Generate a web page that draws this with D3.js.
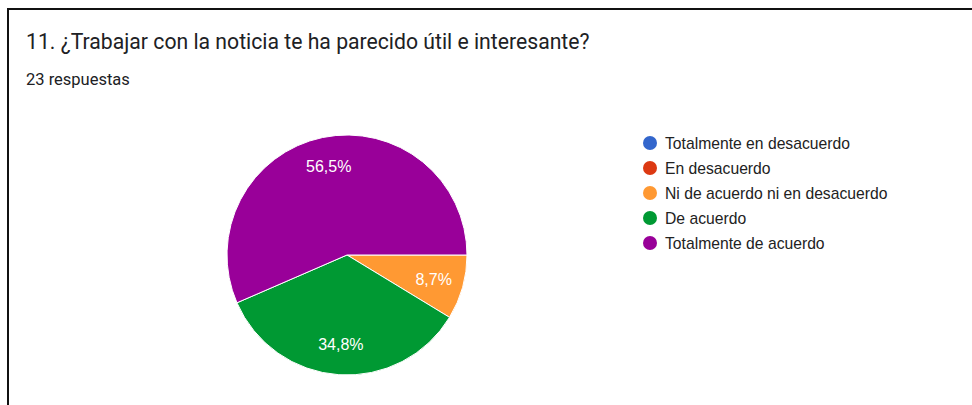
<!DOCTYPE html>
<html>
<head>
<meta charset="utf-8">
<script src="https://cdn.jsdelivr.net/npm/d3@7"></script>
<style>
  body { margin: 0; background: #fff; }
  svg { display: block; font-family: Roboto, Arial, sans-serif; }
</style>
</head>
<body>
<svg width="972" height="405"></svg>
<script>
const categories = [
  "Totalmente en desacuerdo",
  "En desacuerdo",
  "Ni de acuerdo ni en desacuerdo",
  "De acuerdo",
  "Totalmente de acuerdo",
];
const counts = [0, 0, 2, 8, 13];
const colors = ["#3366cc", "#dc3912", "#ff9933", "#009933", "#990099"];

const total = d3.sum(counts);
const svg = d3.select("svg");

// frame (only top and left edges are visible in the crop)
svg.append("path")
  .attr("d", "M8,406 V9 H975")
  .attr("fill", "none")
  .attr("stroke", "#111")
  .attr("stroke-width", 2);

svg.append("text")
  .attr("x", 26).attr("y", 49)
  .attr("font-size", 21.2)
  .attr("fill", "#202124")
  .text("11. ¿Trabajar con la noticia te ha parecido útil e interesante?");

svg.append("text")
  .attr("x", 26).attr("y", 85)
  .attr("font-size", 16.5)
  .attr("fill", "#202124")
  .text(`${total} respuestas`);

const radius = 120;
const pie = d3.pie()
  .sort(null)
  .value(d => d.value)
  .startAngle(Math.PI / 2)
  .endAngle(Math.PI / 2 + 2 * Math.PI);

const slices = pie(categories.map((name, i) => ({ name, value: counts[i], color: colors[i] })))
  .filter(d => d.data.value > 0);

const arc = d3.arc().innerRadius(0).outerRadius(radius);
const labelArc = d3.arc().innerRadius(radius * 0.75).outerRadius(radius * 0.75);

const g = svg.append("g").attr("transform", "translate(347,255)");

g.selectAll("path")
  .data(slices)
  .join("path")
  .attr("d", arc)
  .attr("fill", d => d.data.color)
  .attr("stroke", "#fff")
  .attr("stroke-width", 1);

const fmt = v => (Math.round(v / total * 1000) / 10).toFixed(1).replace(".", ",") + "%";

g.selectAll("text")
  .data(slices)
  .join("text")
  .attr("transform", d => `translate(${labelArc.centroid(d)})`)
  .attr("text-anchor", "middle")
  .attr("dy", "0.35em")
  .attr("font-family", "'Liberation Sans', Arial, sans-serif")
  .attr("font-size", 16)
  .attr("fill", "#fff")
  .text(d => fmt(d.data.value));

const legend = svg.append("g").attr("transform", "translate(650,143)");
const y = d3.scaleBand().domain(categories).range([0, 125]);

const items = legend.selectAll("g")
  .data(categories)
  .join("g")
  .attr("transform", d => `translate(0,${y(d)})`);

items.append("circle")
  .attr("r", 7)
  .attr("fill", (d, i) => colors[i]);

items.append("text")
  .attr("x", 15)
  .attr("dy", "0.36em")
  .attr("font-family", "'Liberation Sans', Arial, sans-serif")
  .attr("font-size", 15.7)
  .attr("fill", "#222")
  .text(d => d);
</script>
</body>
</html>
